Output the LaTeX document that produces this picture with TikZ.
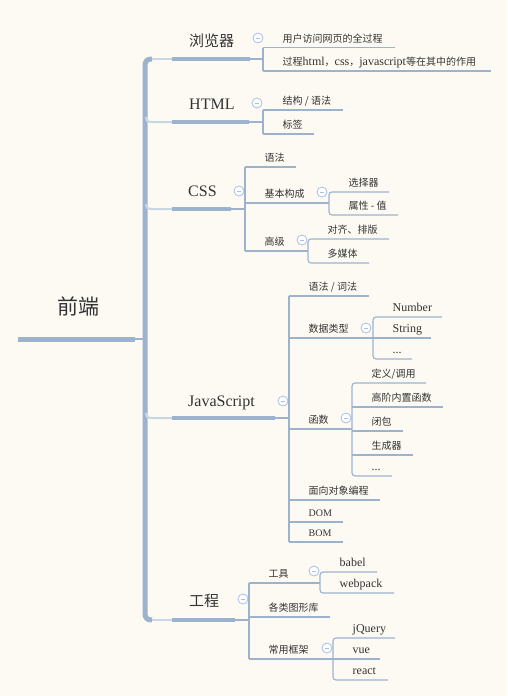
\documentclass[tikz,border=0pt]{standalone}
\usepackage{fontspec}
\setmainfont{Liberation Serif}
\newfontfamily\cjkf{Noto Sans CJK SC}
\newcommand\la[1]{{\rmfamily\fontsize{12}{14}\selectfont #1}}
\definecolor{bgc}{HTML}{FDFAF3}
\definecolor{lnc}{HTML}{9CB2CD}
\definecolor{ltc}{HTML}{C9D6E5}
\definecolor{txc}{HTML}{333333}
\definecolor{btc}{HTML}{A6BFEB}
\newcommand\mmleaf[5]{%
  \coordinate (#1s) at (#2,#3);
  \coordinate (#1e) at (#4,#3);
  \node[txt] (#1) at (#2+19.5,#3-5.5) {#5};
}
\begin{document}
\begin{tikzpicture}[x=1pt,y=-1pt,
 ln/.style={draw=lnc, line width=1.1pt},
 ulb/.style={draw=lnc, line width=4pt},
 ulr/.style={draw=lnc, line width=5pt},
 trunk/.style={draw=lnc, line width=5pt},
 lt/.style={draw=ltc, line width=2pt},
 txt/.style={anchor=base west, inner sep=0pt, text=txc, font=\fontsize{10}{12}\selectfont\cjkf},
 btxt/.style={anchor=base west, inner sep=0pt, text=txc, font=\fontsize{16}{19}\selectfont},
 btn/.style={circle, draw=btc, fill=white, line width=0.8pt, minimum size=10pt, inner sep=0pt,
   path picture={\draw[btc, line width=0.8pt] ([xshift=-2.3pt]path picture bounding box.center) -- ([xshift=2.3pt]path picture bounding box.center);}},
]
\fill[bgc] (0,0) rectangle (507,696);
\useasboundingbox (0,0) rectangle (507,696);

% root
\node[anchor=base west, inner sep=0pt, text=txc, font=\fontsize{21}{25}\selectfont\cjkf] (root) at (57,314) {前端};
\coordinate (r0s) at (18,339);
\coordinate (r0e) at (135,339);
\coordinate (tr0) at (145,339);
\draw[ulr] (r0s) -- (r0e);
\draw[ln] (r0e) -- (tr0);

% trunk
\coordinate (ttop) at (152,59);
\coordinate (tbot) at (152,620);
\draw[trunk] (ttop) .. controls (147,59) and (145,61) .. (145,66) -- (145,613) .. controls (145,618) and (147,620) .. (tbot);

% branches
\node[btxt, font=\fontsize{15}{18}\selectfont] (b1) at (189,46) {\cjkf 浏览器};
\node[btxt] (b2) at (189,109) {HTML};
\node[btxt] (b3) at (188,196.5) {CSS};
\node[btxt] (b4) at (188,406) {JavaScript};
\node[btxt, font=\fontsize{15}{18}\selectfont] (b5) at (189,606.5) {\cjkf 工程};
\coordinate (b1s) at (172,59);  \coordinate (b1e) at (250,59);  \coordinate (b1v) at (263,59);
\coordinate (b2s) at (172,122); \coordinate (b2e) at (249,122); \coordinate (b2v) at (263,122);
\coordinate (b3s) at (172,209); \coordinate (b3e) at (231,209); \coordinate (b3v) at (245,209);
\coordinate (b4s) at (172,418); \coordinate (b4e) at (275,418); \coordinate (b4v) at (289,418);
\coordinate (b5s) at (172,620); \coordinate (b5e) at (235,620); \coordinate (b5v) at (249,620);
\draw[lt] (ttop) -- (b1s);
\draw[lt] (146,117) .. controls (146,121) and (148,122) .. (152,122) -- (b2s);
\draw[lt] (146,204) .. controls (146,208) and (148,209) .. (152,209) -- (b3s);
\draw[lt] (146,413) .. controls (146,417) and (148,418) .. (152,418) -- (b4s);
\draw[lt] (tbot) -- (b5s);
\foreach \i in {1,...,5}{
  \draw[ulb] (b\i s) -- (b\i e);
  \draw[ln] (b\i e) -- (b\i v);
}

% buttons
\node[btn] (k1) at (258,38) {};
\node[btn] (k2) at (257,103) {};
\node[btn] (k3) at (239,191) {};
\node[btn] (k31) at (322,192) {};
\node[btn] (k32) at (302,240) {};
\node[btn] (k4) at (283,401) {};
\node[btn] (k41) at (366,328) {};
\node[btn] (k42) at (346,418) {};
\node[btn] (k5) at (243,599) {};
\node[btn] (k51) at (314,571) {};
\node[btn] (k52) at (327,648) {};

% ---- 浏览器
\mmleaf{l11}{263}{47.5}{395}{用户访问网页的全过程}
\mmleaf{l12}{263}{71}{491}{过程\la{html}，\la{css}，\la{javascript}等在其中的作用}
\draw[ln] (l11s) -- (l12s);
\draw[ln] (l11s) -- (l11e);
\draw[ln] (l12s) -- (l12e);

% ---- HTML
\mmleaf{l21}{263}{110}{343}{结构 / 语法}
\mmleaf{l22}{263}{134}{314}{标签}
\draw[ln] (l21s) -- (l22s);
\draw[ln] (l21s) -- (l21e);
\draw[ln] (l22s) -- (l22e);

% ---- CSS
\mmleaf{l31}{245}{167}{296}{语法}
\mmleaf{l32}{245}{203}{329}{基本构成}
\mmleaf{l33}{245}{251}{308}{高级}
\draw[ln] (l31s) -- (l33s);
\foreach \n in {l31,l32,l33}{\draw[ln] (\n s) -- (\n e);}
\mmleaf{l321}{329}{192}{389}{选择器}
\mmleaf{l322}{329}{215}{398}{属性 - 值}
\draw[ln,rounded corners=3pt] (l321e) -- (l321s) -- (l322s) -- (l322e);
\mmleaf{l331}{308}{239}{389}{对齐、排版}
\mmleaf{l332}{308}{263}{369}{多媒体}
\draw[ln,rounded corners=3pt] (l331e) -- (l331s) -- (l332s) -- (l332e);

% ---- JavaScript
\mmleaf{l41}{289}{296}{369}{语法 / 词法}
\mmleaf{l42}{289}{338}{373}{数据类型}
\mmleaf{l43}{289}{429}{352}{函数}
\mmleaf{l44}{289}{500}{380}{面向对象编程}
\mmleaf{l45}{289}{522}{343}{\rmfamily\fontsize{10}{12}\selectfont DOM}
\mmleaf{l46}{289}{542}{343}{\rmfamily\fontsize{10}{12}\selectfont BOM}
\draw[ln] (l41s) -- (l46s);
\foreach \n in {l41,l42,l43,l44,l45,l46}{\draw[ln] (\n s) -- (\n e);}
\mmleaf{l421}{373}{317}{442}{\la{Number}}
\mmleaf{l422}{373}{338}{431}{\la{String}}
\mmleaf{l423}{373}{359}{412}{\la{...}}
\draw[ln,rounded corners=3pt] (l421e) -- (l421s) -- (l423s) -- (l423e);
\draw[ln] (l422s) -- (l422e);
\mmleaf{l431}{352}{383}{426}{定义/调用}
\mmleaf{l432}{352}{407}{443}{高阶内置函数}
\mmleaf{l433}{352}{431}{403}{闭包}
\mmleaf{l434}{352}{455}{413}{生成器}
\mmleaf{l435}{352}{476}{392}{\la{...}}
\draw[ln,rounded corners=3pt] (l431e) -- (l431s) -- (l435s) -- (l435e);
\foreach \n in {l432,l433,l434}{\draw[ln] (\n s) -- (\n e);}

% ---- 工程
\mmleaf{l51}{249}{583}{320}{工具}
\mmleaf{l52}{249}{617}{330}{各类图形库}
\mmleaf{l53}{249}{659}{333}{常用框架}
\draw[ln] (l51s) -- (l53s);
\foreach \n in {l51,l52,l53}{\draw[ln] (\n s) -- (\n e);}
\mmleaf{l511}{320}{572}{377}{\la{babel}}
\mmleaf{l512}{320}{593}{394}{\la{webpack}}
\draw[ln,rounded corners=3pt] (l511e) -- (l511s) -- (l512s) -- (l512e);
\mmleaf{l531}{333}{638}{395}{\la{jQuery}}
\mmleaf{l532}{333}{659}{380}{\la{vue}}
\mmleaf{l533}{333}{680}{388}{\la{react}}
\draw[ln,rounded corners=3pt] (l531e) -- (l531s) -- (l533s) -- (l533e);
\draw[ln] (l532s) -- (l532e);
\end{tikzpicture}
\end{document}
